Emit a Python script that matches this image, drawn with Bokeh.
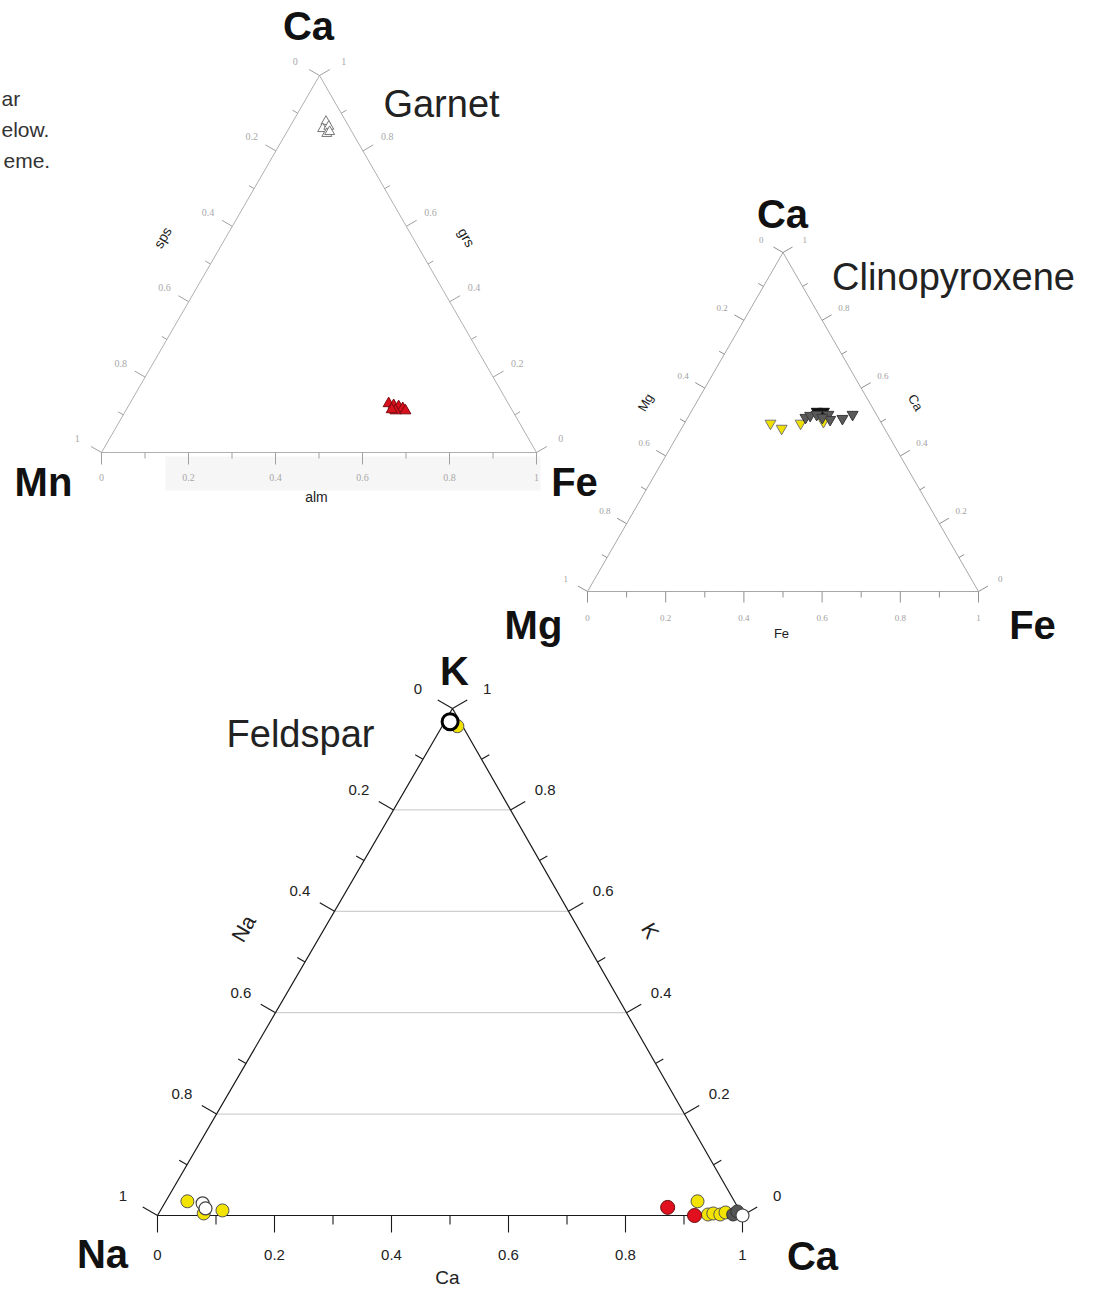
import math
from bokeh.plotting import figure
from bokeh.models import Range1d
from bokeh.embed import file_html
from bokeh.resources import INLINE
from bokeh.core.properties import value

# ---------------- data (ternary fractions) ----------------
# Garnet: apex = grs (Ca), left = sps (Mn), right = alm (Fe)
grt_red_grs = [0.130, 0.125, 0.122, 0.117, 0.111, 0.111, 0.114]
grt_red_alm = [0.595, 0.609, 0.622, 0.634, 0.620, 0.643, 0.610]
grt_open_grs = [0.878, 0.859, 0.865, 0.846, 0.851]
grt_open_alm = [0.076, 0.078, 0.089, 0.094, 0.098]

# Clinopyroxene: apex = Ca, left = Mg, right = Fe
cpx_yellow_ca = [0.496, 0.481, 0.496, 0.501]
cpx_yellow_fe = [0.220, 0.256, 0.297, 0.353]
cpx_gray_ca = [0.513, 0.519, 0.522, 0.522, 0.507, 0.510, 0.522, 0.513]
cpx_gray_fe = [0.301, 0.310, 0.325, 0.355, 0.367, 0.397, 0.417, 0.344]
cpx_black_ca = [0.531, 0.531]
cpx_black_fe = [0.321, 0.339]

# Feldspar: apex = K, left = Na, right = Ca
fsp_yellow_k = [0.965, 0.028, 0.004, 0.010, 0.028, 0.002, 0.004, 0.002, 0.006]
fsp_yellow_ca = [0.026, 0.037, 0.077, 0.106, 0.909, 0.940, 0.948, 0.961, 0.968]
fsp_red_k = [0.016, 0.000]
fsp_red_ca = [0.864, 0.918]
fsp_gray_k = [0.002, 0.008]
fsp_gray_ca = [0.983, 0.987]
fsp_white_k = [0.024, 0.014, 0.000]
fsp_white_ca = [0.065, 0.075, 1.000]
fsp_black_k = [0.974]
fsp_black_ca = [0.009]

tick_values = [i / 10 for i in range(11)]

# ---------------- layout ----------------
W, H = 1110, 1290
p = figure(width=W, height=H, output_backend="svg", toolbar_location=None,
           x_range=Range1d(0, W), y_range=Range1d(H, 0),
           min_border=0)
p.axis.visible = False
p.grid.visible = False
p.outline_line_color = None

GRT = ((319, 75), (101, 452), (536, 452))
CPX = ((782.5, 252), (587, 591), (978, 591))
FSP = ((452, 708), (157, 1215), (742, 1215))

SANS = value("Liberation Sans")
SERIF = value("Liberation Serif")


def to_xy(apex, left, right, V):
    A, B, C = V
    xs = [a * A[0] + b * B[0] + c * C[0] for a, b, c in zip(apex, left, right)]
    ys = [a * A[1] + b * B[1] + c * C[1] for a, b, c in zip(apex, left, right)]
    return xs, ys


def fmt(v):
    if abs(v) < 1e-9:
        return "0"
    if abs(v - 1) < 1e-9:
        return "1"
    return "%.1f" % v


def frame(V, edge_color, edge_w, tick_color, maj, mnr, ldist, bdist,
          lfont, lsize, lcolor, tick_w=1.0):
    A, B, C = V
    p.line([A[0], B[0], C[0], A[0]], [A[1], B[1], C[1], A[1]],
           line_color=edge_color, line_width=edge_w)
    nL = (-math.cos(math.pi / 6), -0.5)
    nR = (math.cos(math.pi / 6), -0.5)
    x0, y0, x1, y1 = [], [], [], []
    lx, ly, lt = [], [], []
    for i, v in enumerate(tick_values):
        L = maj if i % 2 == 0 else mnr
        # left axis: 0 at apex -> 1 at left vertex
        pt = (A[0] + v * (B[0] - A[0]), A[1] + v * (B[1] - A[1]))
        x0.append(pt[0]); y0.append(pt[1])
        x1.append(pt[0] + L * nL[0]); y1.append(pt[1] + L * nL[1])
        if i % 2 == 0:
            lx.append(pt[0] + ldist * nL[0]); ly.append(pt[1] + ldist * nL[1]); lt.append(fmt(v))
        # right axis: 0 at right vertex -> 1 at apex
        pt = (C[0] + v * (A[0] - C[0]), C[1] + v * (A[1] - C[1]))
        x0.append(pt[0]); y0.append(pt[1])
        x1.append(pt[0] + L * nR[0]); y1.append(pt[1] + L * nR[1])
        if i % 2 == 0:
            lx.append(pt[0] + ldist * nR[0]); ly.append(pt[1] + ldist * nR[1]); lt.append(fmt(v))
        # bottom axis: 0 at left vertex -> 1 at right vertex
        pt = (B[0] + v * (C[0] - B[0]), B[1])
        x0.append(pt[0]); y0.append(pt[1])
        x1.append(pt[0]); y1.append(pt[1] + L)
        if i % 2 == 0:
            lx.append(pt[0]); ly.append(pt[1] + bdist); lt.append(fmt(v))
    p.segment(x0, y0, x1, y1, line_color=tick_color, line_width=tick_w)
    p.text(lx, ly, text=lt, text_font=lfont, text_font_size=lsize,
           text_color=lcolor, text_align="center", text_baseline="middle")


def label(x, y, t, size, bold=False, color="#111111", angle=0.0, font=SANS):
    p.text([x], [y], text=[t], text_font=font, text_font_size=size,
           text_font_style="bold" if bold else "normal", text_color=color,
           text_align="center", text_baseline="middle", angle=angle)


# faint scan panel behind garnet bottom labels
p.quad(left=[165], right=[540], top=[456], bottom=[490],
       fill_color="#f6f6f6", line_color=None)

# ---------------- garnet ----------------
frame(GRT, "#b0b0b0", 1.0, "#a0a0a0", 12, 6, 28, 25, SERIF, "10px", "#a8a8a8")
sps = [1 - g - a for g, a in zip(grt_open_grs, grt_open_alm)]
gx, gy = to_xy(grt_open_grs, sps, grt_open_alm, GRT)
p.scatter(gx, gy, marker="triangle", size=10, fill_color="white",
          line_color="#777777", line_width=1)
sps = [1 - g - a for g, a in zip(grt_red_grs, grt_red_alm)]
gx, gy = to_xy(grt_red_grs, sps, grt_red_alm, GRT)
p.scatter(gx, gy, marker="triangle", size=11, fill_color="#d8101c",
          line_color="#7a0a10", line_width=1)

label(308, 25, "Ca", "40px", bold=True)
label(43, 481, "Mn", "40px", bold=True)
label(574, 481, "Fe", "40px", bold=True)
label(441, 103, "Garnet", "38px", color="#222222")
label(162, 237, "sps", "14px", angle=math.pi / 3, color="#222222")
label(466, 237, "grs", "14px", angle=-math.pi / 3, color="#222222")
label(316, 496, "alm", "14px", color="#222222")

# ---------------- clinopyroxene ----------------
frame(CPX, "#a8a8a8", 1.0, "#909090", 11, 6, 25, 26, SERIF, "9px", "#a0a0a0")
mg = [1 - c - f for c, f in zip(cpx_yellow_ca, cpx_yellow_fe)]
cx, cy = to_xy(cpx_yellow_ca, mg, cpx_yellow_fe, CPX)
p.scatter(cx, cy, marker="inverted_triangle", size=11, fill_color="#f0e000",
          line_color="#777777", line_width=1)
mg = [1 - c - f for c, f in zip(cpx_black_ca, cpx_black_fe)]
cx, cy = to_xy(cpx_black_ca, mg, cpx_black_fe, CPX)
p.scatter(cx, cy, marker="inverted_triangle", size=11, fill_color="#111111",
          line_color="#111111", line_width=1)
mg = [1 - c - f for c, f in zip(cpx_gray_ca, cpx_gray_fe)]
cx, cy = to_xy(cpx_gray_ca, mg, cpx_gray_fe, CPX)
p.scatter(cx, cy, marker="inverted_triangle", size=11, fill_color="#5a5a5a",
          line_color="#3a3a3a", line_width=1)

label(782, 213, "Ca", "40px", bold=True)
label(533, 624, "Mg", "40px", bold=True)
label(1032, 624, "Fe", "40px", bold=True)
label(953, 276, "Clinopyroxene", "38px", color="#222222")
label(645, 402, "Mg", "13px", angle=math.pi / 3, color="#222222")
label(915, 402, "Ca", "13px", angle=-math.pi / 3, color="#222222")
label(781, 633, "Fe", "13px", color="#222222")

# ---------------- feldspar ----------------
A, B, C = FSP
grid_k = [0.2, 0.4, 0.6, 0.8]
gx0 = [B[0] + k * (A[0] - B[0]) for k in grid_k]
gx1 = [C[0] + k * (A[0] - C[0]) for k in grid_k]
gyk = [B[1] + k * (A[1] - B[1]) for k in grid_k]
p.segment(gx0, gyk, gx1, gyk, line_color="#c4c4c4", line_width=1)
frame(FSP, "#1a1a1a", 1.2, "#1a1a1a", 17, 9, 40, 39, SANS, "15px", "#222222", tick_w=1.1)


def fsp_xy(k, ca):
    na = [1 - a - b for a, b in zip(k, ca)]
    return to_xy(k, na, ca, FSP)


fx, fy = fsp_xy(fsp_yellow_k, fsp_yellow_ca)
p.scatter(fx, fy, size=13, fill_color="#f2e400", line_color="#555555", line_width=1)
fx, fy = fsp_xy(fsp_red_k, fsp_red_ca)
p.scatter(fx, fy, size=14, fill_color="#e0101e", line_color="#6a0a0a", line_width=1)
fx, fy = fsp_xy(fsp_gray_k, fsp_gray_ca)
p.scatter(fx, fy, size=13, fill_color="#555555", line_color="#333333", line_width=1)
fx, fy = fsp_xy(fsp_white_k, fsp_white_ca)
p.scatter(fx, fy, size=13, fill_color="white", line_color="#444444", line_width=1.2)
fx, fy = fsp_xy(fsp_black_k, fsp_black_ca)
p.scatter(fx, fy, size=16, fill_color="white", line_color="#000000", line_width=3)

label(454, 670, "K", "40px", bold=True)
label(102, 1253, "Na", "40px", bold=True)
label(812, 1255, "Ca", "40px", bold=True)
label(300, 733, "Feldspar", "38px", color="#222222")
label(243, 928, "Na", "21px", angle=math.pi / 3, color="#222222")
label(650, 930, "K", "21px", angle=-math.pi / 3, color="#222222")
label(447, 1277, "Ca", "19px", color="#222222")

# caption fragments at the left edge
p.text([1, 1, 3], [98, 129, 160], text=["ar", "elow.", "eme."], text_font=SANS,
       text_font_size="21px", text_color="#333333", text_align="left",
       text_baseline="middle")

open("out.html", "w").write(file_html(p, INLINE))
